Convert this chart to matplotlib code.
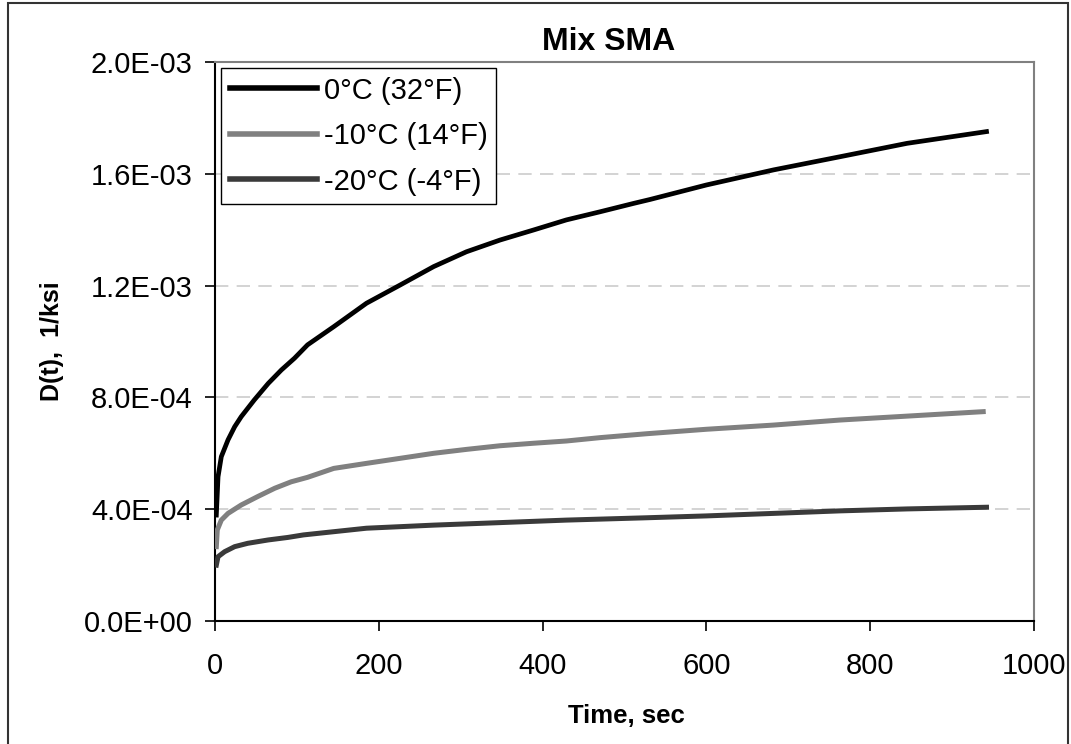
import matplotlib
matplotlib.use('Agg')
from matplotlib import pyplot as plt
from matplotlib.patches import Rectangle
from matplotlib.ticker import FuncFormatter
import numpy as np

plt.rcParams['font.family'] = ['Liberation Sans', 'DejaVu Sans']

# Creep compliance D(t), 1/ksi
t_0c = [1.6, 3.7, 7.7, 15.9, 24, 32, 48, 65, 81, 97, 113, 145, 185, 226, 267,
        307, 348, 389, 429, 470, 511, 531, 600, 682, 763, 845, 942]
d_0c = [3.79e-4, 5.16e-4, 5.88e-4, 6.48e-4, 6.95e-4, 7.31e-4, 7.91e-4, 8.50e-4,
        8.98e-4, 9.40e-4, 9.88e-4, 1.053e-3, 1.137e-3, 1.202e-3, 1.268e-3,
        1.321e-3, 1.363e-3, 1.399e-3, 1.435e-3, 1.464e-3, 1.494e-3, 1.508e-3,
        1.560e-3, 1.614e-3, 1.661e-3, 1.709e-3, 1.751e-3]

t_m10c = [1.6, 2.8, 7.7, 15.9, 32, 52, 73, 93, 113, 145, 185, 226, 267, 307,
          348, 389, 429, 470, 527, 600, 682, 763, 845, 938]
d_m10c = [2.66e-4, 3.26e-4, 3.61e-4, 3.85e-4, 4.15e-4, 4.45e-4, 4.75e-4,
          4.98e-4, 5.14e-4, 5.46e-4, 5.64e-4, 5.82e-4, 6.00e-4, 6.14e-4,
          6.27e-4, 6.36e-4, 6.44e-4, 6.56e-4, 6.70e-4, 6.86e-4, 7.01e-4,
          7.19e-4, 7.33e-4, 7.49e-4]

t_m20c = [1.6, 3.7, 11.8, 24, 40, 65, 89, 108, 185, 267, 348, 429, 523, 600,
          682, 763, 845, 942]
d_m20c = [2.00e-4, 2.30e-4, 2.48e-4, 2.66e-4, 2.78e-4, 2.90e-4, 2.99e-4,
          3.08e-4, 3.32e-4, 3.43e-4, 3.52e-4, 3.61e-4, 3.69e-4, 3.76e-4,
          3.85e-4, 3.94e-4, 4.01e-4, 4.07e-4]

labels = ['0°C (32°F)', '-10°C (14°F)', '-20°C (-4°F)']
x_ticks = [0, 200, 400, 600, 800, 1000]
y_ticks = [0, 4e-4, 8e-4, 1.2e-3, 1.6e-3, 2.0e-3]

fig = plt.figure(figsize=(10.71, 7.44), dpi=100)
ax = fig.add_axes([215 / 1071, 1 - 621 / 744, (1034 - 215) / 1071, (621 - 62) / 744])

ax.plot(t_0c, d_0c, color='black', lw=3.4, label=labels[0], zorder=4)
ax.plot(t_m10c, d_m10c, color='#808080', lw=3.6, label=labels[1], zorder=3)
ax.plot(t_m20c, d_m20c, color='#3a3a3a', lw=3.6, label=labels[2], zorder=3)

ax.set_xlim(0, 1000)
ax.set_ylim(0, 2.0e-3)
ax.set_xticks(x_ticks)
ax.set_yticks(y_ticks)
ax.yaxis.set_major_formatter(FuncFormatter(lambda v, p: '{:.1E}'.format(v)))
ax.tick_params(labelsize=21, length=7.2, width=1.2, direction='out')
ax.tick_params(axis='y', pad=9)
ax.tick_params(axis='x', pad=15)

for y in y_ticks[1:-1]:
    ax.axhline(y, color='#cccccc', lw=1.2, dashes=(8, 5), zorder=1)

ax.spines['left'].set_color('black')
ax.spines['bottom'].set_color('black')
ax.spines['left'].set_linewidth(1.5)
ax.spines['bottom'].set_linewidth(1.5)
ax.spines['top'].set_color('#808080')
ax.spines['right'].set_color('#808080')
ax.spines['top'].set_linewidth(1.5)
ax.spines['right'].set_linewidth(1.5)

fig.text(609 / 1071, 1 - 50 / 744, 'Mix SMA', ha='center', va='baseline',
         fontsize=23, fontweight='bold')
fig.text(626 / 1071, 1 - 723 / 744, 'Time, sec', ha='center', va='baseline',
         fontsize=18.5, fontweight='bold')
fig.text(52 / 1071, 1 - 341 / 744, 'D(t),  1/ksi', ha='center', va='center',
         fontsize=18, fontweight='bold', rotation=90)

leg = ax.legend(loc='upper left', fontsize=21, frameon=True, fancybox=False,
                edgecolor='black', framealpha=1, borderaxespad=0.2,
                handlelength=2.98, handletextpad=0.24, labelspacing=0.6,
                borderpad=0.3)
leg.get_frame().set_linewidth(1.0)
for line in leg.get_lines():
    line.set_linewidth(4)

fig.patches.append(Rectangle((8 / 1071, -0.01), (1068 - 8) / 1071, 1.006,
                             transform=fig.transFigure, fill=False,
                             edgecolor='#333333', lw=1.5))

fig.savefig('out.png', dpi=100)
